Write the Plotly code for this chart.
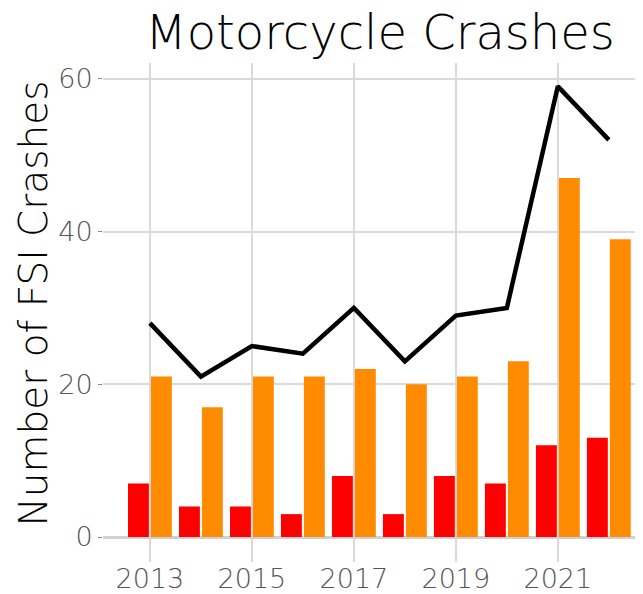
import plotly.graph_objects as go

years = [2013, 2014, 2015, 2016, 2017, 2018, 2019, 2020, 2021, 2022]
fatal = [7, 4, 4, 3, 8, 3, 8, 7, 12, 13]
serious = [21, 17, 21, 21, 22, 20, 21, 23, 47, 39]
total = [28, 21, 25, 24, 30, 23, 29, 30, 59, 52]
x_ticks = [2013, 2015, 2017, 2019, 2021]
y_ticks = [0, 20, 40, 60]

FONT = "DejaVu Sans"

fig = go.Figure()
fig.add_trace(go.Bar(x=years, y=fatal, marker_color="#FF0000", marker_line_width=0,
                     width=0.41, offset=-0.43, name="Fatal"))
fig.add_trace(go.Bar(x=years, y=serious, marker_color="#FF8C00", marker_line_width=0,
                     width=0.41, offset=0.02, name="Serious Injury"))
fig.add_trace(go.Scatter(x=years, y=total, mode="lines", line=dict(color="black", width=4.5),
                         name="Total"))

fig.update_layout(
    width=635, height=586,
    margin=dict(l=95, r=0, t=55, b=32),
    plot_bgcolor="white", paper_bgcolor="white",
    showlegend=False,
    barmode="overlay",
    font=dict(family=FONT, color="black"),
    title=dict(text="Motorcycle Crashes", font=dict(family=FONT, size=48, color="black", weight=200),
               xref="paper", x=0.513, xanchor="center", yref="container", y=0.988, yanchor="top",
               automargin=False),
    xaxis=dict(range=[2012.08, 2022.67], tickvals=x_ticks, ticktext=[str(v) for v in x_ticks],
               showgrid=True, gridcolor="#DADADA", gridwidth=1.5, zeroline=False, automargin=False,
               showline=False, ticks="", ticklabelstandoff=-2,
               tickfont=dict(family=FONT, size=27, color="#555555", weight=200)),
    yaxis=dict(range=[-3.27, 62.06], tickvals=y_ticks, ticktext=[str(v) for v in y_ticks],
               showgrid=True, gridcolor="#DADADA", gridwidth=1.5, automargin=False,
               zeroline=True, zerolinecolor="#D0D0D0", zerolinewidth=2.5,
               showline=False, ticks="outside", ticklen=4, tickcolor="#888888", tickwidth=1,
               tickfont=dict(family=FONT, size=27, color="#555555", weight=200)),
    annotations=[dict(text="Number of FSI Crashes", textangle=-90, showarrow=False,
                      xref="paper", yref="paper", x=-0.128, y=0.518,
                      xanchor="center", yanchor="middle",
                      font=dict(family=FONT, size=39, color="black", weight=200))],
)

fig.write_html("out.html")
